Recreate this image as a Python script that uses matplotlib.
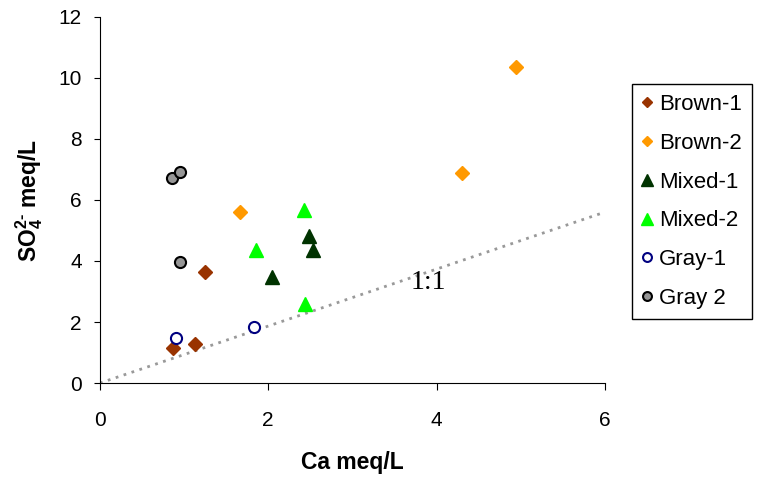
import matplotlib
matplotlib.use('Agg')
from matplotlib import pyplot as plt

plt.rcParams['font.family'] = ['Liberation Sans', 'DejaVu Sans']
plt.rcParams['mathtext.fontset'] = 'custom'
plt.rcParams['mathtext.rm'] = 'Liberation Sans:bold'
plt.rcParams['mathtext.bf'] = 'Liberation Sans:bold'

# data (Ca, SO4 in meq/L)
brown1_ca = [0.87, 1.13, 1.25]
brown1_so4 = [1.14, 1.27, 3.64]
brown2_ca = [1.67, 4.30, 4.94]
brown2_so4 = [5.60, 6.88, 10.34]
mixed1_ca = [2.04, 2.48, 2.53]
mixed1_so4 = [3.49, 4.82, 4.36]
mixed2_ca = [1.85, 2.42, 2.44]
mixed2_so4 = [4.36, 5.67, 2.59]
gray1_ca = [0.90, 1.83]
gray1_so4 = [1.49, 1.85]
gray2_ca = [0.86, 0.95, 0.95]
gray2_so4 = [6.73, 6.90, 3.98]
ref_x = [0, 6]
ref_y = [0, 5.6]

fig = plt.figure(figsize=(7.57, 4.80), dpi=100)
ax = fig.add_axes([0.132, 0.202, 0.667, 0.763])

ax.plot(ref_x, ref_y, linestyle=(0, (1, 2)), color='#999999', lw=2, zorder=1)
ax.plot(brown1_ca, brown1_so4, 'D', color='#993300', ms=7, ls='none', label='Brown-1')
ax.plot(brown2_ca, brown2_so4, 'D', color='#FF9900', ms=7, ls='none', label='Brown-2')
ax.plot(mixed1_ca, mixed1_so4, '^', color='#003300', ms=10, ls='none', label='Mixed-1')
ax.plot(mixed2_ca, mixed2_so4, '^', color='#00FF00', ms=10, ls='none', label='Mixed-2')
ax.plot(gray1_ca, gray1_so4, 'o', mfc='white', mec='#000080', mew=1.5, ms=8, ls='none', label='Gray-1')
ax.plot(gray2_ca, gray2_so4, 'o', mfc='#969696', mec='black', mew=1.5, ms=8, ls='none', label='Gray 2')

ax.text(3.9, 3.28, '1:1', family='Liberation Serif', fontsize=20, ha='center', va='center')

ax.set_xlim(0, 6)
ax.set_ylim(0, 12)
ax.set_xticks([0, 2, 4, 6])
ax.set_yticks([0, 2, 4, 6, 8, 10, 12])
ax.spines['top'].set_visible(False)
ax.spines['right'].set_visible(False)
ax.tick_params(labelsize=15, length=4, direction='out')
ax.tick_params(axis='x', length=5, pad=15)
ax.tick_params(axis='y', pad=9)
ax.set_xlabel('Ca meq/L', fontsize=16.5, fontweight='bold', labelpad=15)
ax.set_ylabel(r'SO$_{4}^{2\text{-}}$ meq/L', fontsize=16.5, fontweight='bold', labelpad=10)

leg = fig.legend(loc='upper left', bbox_to_anchor=(0.835, 0.825), fontsize=16,
                 fancybox=False, edgecolor='black', framealpha=1, handlelength=0.4,
                 handletextpad=0.35, labelspacing=0.8, borderpad=0.45, borderaxespad=0,
                 markerscale=0.8)
leg.get_frame().set_linewidth(1)

plt.savefig('out.png', dpi=100)
